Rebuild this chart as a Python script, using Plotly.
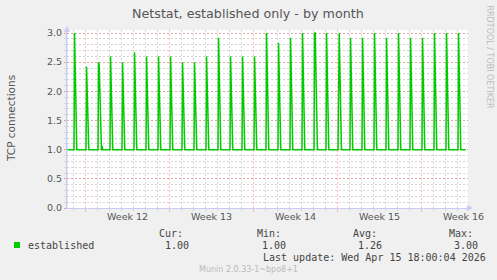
import datetime as dt
import plotly.graph_objects as go

# ---------------- data ----------------
first_day = "2026-03-14"
peaks = [3.0, 2.42, 2.5, 2.6, 2.5, 2.67, 2.6, 2.6, 2.6, 2.5, 2.5, 2.6, 2.92, 2.6, 2.6, 2.6,
         3.0, 2.83, 2.92, 3.0, 3.0, 3.0, 3.0, 2.92, 2.92, 3.0, 2.92, 3.0, 2.92, 2.92, 3.0, 3.0, 3.0]
second_peaks = [None, None, 2.45, None, None, None, None, None, None, None, None, None, None, None, None, None,
                None, None, None, None, 3.0, None, 3.0, None, None, None, None, None, None, None, None, None, None]
baseline = 1.0
bump_time = "2026-03-16 09:00"
bump_value = 1.06
series_start = "2026-03-13 08:00"
series_end = "2026-04-15 16:00"

week_starts = ["2026-03-15", "2026-03-22", "2026-03-29", "2026-04-05", "2026-04-12"]
week_labels = ["Week 12", "Week 13", "Week 14", "Week 15", "Week 16"]
y_ticks = [0.0, 0.5, 1.0, 1.5, 2.0, 2.5, 3.0]

legend_name = "established"
stat_heads = ["Cur:", "Min:", "Avg:", "Max:"]
stat_vals = ["1.00", "1.00", "1.26", "3.00"]
last_update = "Last update: Wed Apr 15 18:00:04 2026"
footer = "Munin 2.0.33-1~bpo8+1"
title = "Netstat, established only - by month"
y_title = "TCP connections"
side_text = "RRDTOOL / TOBI OETIKER"

# ---------------- build series ----------------
H = dt.timedelta(hours=1)
d0 = dt.datetime.fromisoformat(first_day)
pts = [(dt.datetime.fromisoformat(series_start), baseline)]
for k, (p, p2) in enumerate(zip(peaks, second_peaks)):
    d = d0 + dt.timedelta(days=k)
    pts.append((d + 0.67 * H, baseline))
    pts.append((d + 1.67 * H, p))
    if p2 is not None:
        pts.append((d + 3.0 * H, p2))
        pts.append((d + 7.5 * H, baseline))
    else:
        pts.append((d + 6.2 * H, baseline))
bt = dt.datetime.fromisoformat(bump_time)
pts += [(bt - H, baseline), (bt, bump_value), (bt + H, baseline)]
pts.append((dt.datetime.fromisoformat(series_end), baseline))
pts.sort(key=lambda t: t[0])
xs = [t for t, _ in pts]
ys = [v for _, v in pts]

# ---------------- layout geometry ----------------
W, Hh = 497, 280
ML, MR, MT, MB = 67, 29, 30, 72
PW, PH = W - ML - MR, Hh - MT - MB
PX_PER_DAY = 12.0
x_start = d0 - dt.timedelta(days=6.7 / PX_PER_DAY)
x_end = x_start + dt.timedelta(days=PW / PX_PER_DAY)
y_top = PH / 58.33


def px(x):
    return (x - ML) / PW


def py(y):
    return (Hh - MB - y) / PH


GREEN = "#00CC00"
AXIS = "#C8CCF4"
MGRID = "rgba(255,90,90,0.4)"
GRID = "#D4D4D4"
TXT = "#555555"

fig = go.Figure()
fig.add_trace(go.Scatter(x=xs, y=ys, mode="lines", line=dict(color=GREEN, width=1.5),
                         hoverinfo="skip", showlegend=False))

fig.update_layout(
    width=W, height=Hh,
    margin=dict(l=ML, r=MR, t=MT, b=MB, pad=0),
    paper_bgcolor="#F0F0F0", plot_bgcolor="#FFFFFF",
    showlegend=False,
    font=dict(family="DejaVu Sans", size=9.5, color=TXT),
)
fig.update_xaxes(
    type="date", range=[x_start, x_end], fixedrange=True,
    tick0=week_starts[0], dtick=7 * 86400000,
    showticklabels=False,
    showgrid=True, gridcolor=MGRID, griddash="2px,2px", gridwidth=1,
    ticks="outside", ticklen=3, tickcolor=MGRID,
    showline=True, linecolor=AXIS, linewidth=1, zeroline=False,
    minor=dict(tick0=first_day, dtick=86400000, showgrid=True, gridcolor=GRID,
               griddash="2px,2px", ticks="outside", ticklen=2, tickcolor=GRID),
)
fig.update_yaxes(
    range=[0, y_top], fixedrange=True,
    tickvals=y_ticks, tickformat=".1f",
    tickfont=dict(size=9.5, color=TXT),
    showgrid=True, gridcolor=MGRID, griddash="2px,2px", gridwidth=1,
    ticks="outside", ticklen=2, tickcolor=MGRID,
    showline=True, linecolor=AXIS, linewidth=1, zeroline=False,
    minor=dict(dtick=0.1, showgrid=True, gridcolor=GRID, griddash="2px,2px",
               ticks="outside", ticklen=2, tickcolor=GRID),
)

ann = []
# title
ann.append(dict(text=title, x=px(248), y=py(13.5), xref="paper", yref="paper",
                xanchor="center", yanchor="middle", showarrow=False,
                font=dict(size=12.7, color="#555555")))
# y title
ann.append(dict(text=y_title, x=px(11), y=py(119), xref="paper", yref="paper",
                xanchor="center", yanchor="middle", showarrow=False, textangle=-90,
                font=dict(size=10.5, color=TXT)))
# side text
ann.append(dict(text=side_text, x=px(489), y=py(56.5), xref="paper", yref="paper",
                xanchor="center", yanchor="middle", showarrow=False, textangle=90,
                font=dict(size=8, color="#BBBBBB")))
# week labels (centered in each week)
for ws, lab in zip(week_starts, week_labels):
    c = dt.datetime.fromisoformat(ws) + dt.timedelta(days=3.5)
    ann.append(dict(text=lab, x=c, y=py(216.5), xref="x", yref="paper",
                    xanchor="center", yanchor="middle", showarrow=False,
                    font=dict(size=9.5, color=TXT)))
# legend
MONO = "DejaVu Sans Mono"
ann.append(dict(text=legend_name, x=px(26.5), y=py(245.3), xref="paper", yref="paper",
                xanchor="left", yanchor="middle", showarrow=False, borderpad=0,
                font=dict(family=MONO, size=10, color="#444444")))
head_x = [158.3, 255.7, 352.0, 447.7]
val_x = [164.3, 261.0, 356.7, 453.3]
for hx, h in zip(head_x, stat_heads):
    ann.append(dict(text=h, x=px(hx), y=py(234), xref="paper", yref="paper",
                    xanchor="left", yanchor="middle", showarrow=False, borderpad=0,
                    font=dict(family=MONO, size=10, color="#444444")))
for vx, v in zip(val_x, stat_vals):
    ann.append(dict(text=v, x=px(vx), y=py(245.3), xref="paper", yref="paper",
                    xanchor="left", yanchor="middle", showarrow=False, borderpad=0,
                    font=dict(family=MONO, size=10, color="#444444")))
ann.append(dict(text=last_update, x=px(261.5), y=py(257.3), xref="paper", yref="paper",
                xanchor="left", yanchor="middle", showarrow=False, borderpad=0,
                font=dict(family=MONO, size=10, color="#444444")))
ann.append(dict(text=footer, x=px(248.2), y=py(269.3), xref="paper", yref="paper",
                xanchor="center", yanchor="middle", showarrow=False, borderpad=0,
                font=dict(family="DejaVu Sans", size=8, color="#BBBBBB")))
fig.update_layout(annotations=ann)

shapes = []
# legend swatch
shapes.append(dict(type="rect", xref="paper", yref="paper",
                   x0=px(14), x1=px(20), y0=py(248), y1=py(242),
                   fillcolor=GREEN, line=dict(width=0)))
# axis arrows
shapes.append(dict(type="line", xref="paper", yref="paper", x0=px(67), x1=px(67),
                   y0=py(208), y1=py(27), line=dict(color=AXIS, width=1)))
shapes.append(dict(type="path", xref="paper", yref="paper",
                   path=f"M {px(64)},{py(32)} L {px(70)},{py(32)} L {px(67)},{py(26)} Z",
                   fillcolor=AXIS, line=dict(width=0)))
shapes.append(dict(type="path", xref="paper", yref="paper",
                   path=f"M {px(467)},{py(205)} L {px(467)},{py(211)} L {px(473)},{py(208)} Z",
                   fillcolor=AXIS, line=dict(width=0)))
fig.update_layout(shapes=shapes)

fig.write_html("out.html")
